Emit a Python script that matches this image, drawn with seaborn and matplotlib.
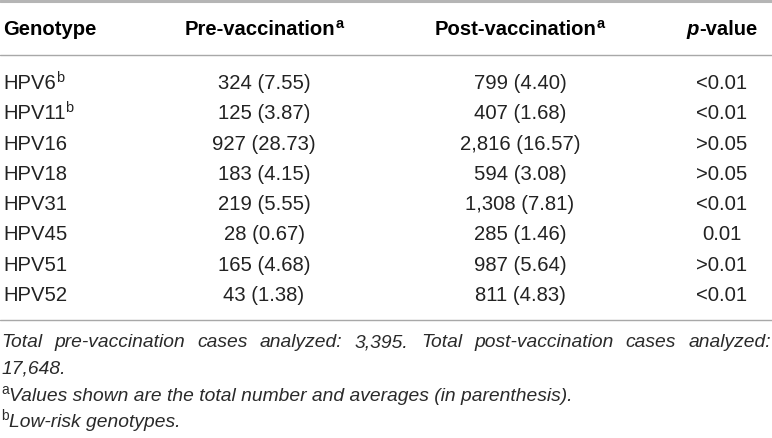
# Table of HPV genotype counts before and after vaccination

import matplotlib
matplotlib.use("Agg")
import matplotlib.pyplot as plt
import seaborn as sns

# Table data
genotypes = ["HPV6", "HPV11", "HPV16", "HPV18", "HPV31", "HPV45", "HPV51", "HPV52"]
low_risk = [True, True, False, False, False, False, False, False]
pre_counts = [324, 125, 927, 183, 219, 28, 165, 43]
pre_avgs = [7.55, 3.87, 28.73, 4.15, 5.55, 0.67, 4.68, 1.38]
post_counts = [799, 407, 2816, 594, 1308, 285, 987, 811]
post_avgs = [4.40, 1.68, 16.57, 3.08, 7.81, 1.46, 5.64, 4.83]
p_values = ["<0.01", "<0.01", ">0.05", ">0.05", "<0.01", "0.01", ">0.01", "<0.01"]

total_pre = 3395
total_post = 17648

sns.set_theme(style="white")
plt.rcParams['font.family'] = ['Liberation Sans', 'DejaVu Sans']

W, H = 772, 438
fig = plt.figure(figsize=(W / 100, H / 100), dpi=100)
ax = fig.add_axes([0, 0, 1, 1])
ax.set_xlim(0, W)
ax.set_ylim(H, 0)
ax.axis("off")
fig.canvas.draw()
renderer = fig.canvas.get_renderer()

FS = 14.6      # body font size (pt)
FN = 13.9      # footnote font size (pt)
SUP = 0.72     # superscript scale
TXT = "#222222"


def width_of(s, **kw):
    t = ax.text(0, 0, s, **kw)
    w = t.get_window_extent(renderer).width
    t.remove()
    return w


def rich(x, y, runs, ha="left"):
    # runs: list of (text, kwargs, raise_px)
    widths = [width_of(s, **kw) for s, kw, _ in runs]
    total = sum(widths)
    if ha == "center":
        x = x - total / 2
    elif ha == "right":
        x = x - total
    for (s, kw, dy), w in zip(runs, widths):
        ax.text(x, y - dy, s, va="baseline", ha="left", **kw)
        x += w


def justify(y, line, x0, x1, **kw):
    words = line.split(" ")
    widths = [width_of(w_, **kw) for w_ in words]
    gap = (x1 - x0 - sum(widths)) / (len(words) - 1)
    x = x0
    for w_, w in zip(words, widths):
        ax.text(x, y, w_, va="baseline", ha="left", **kw)
        x += w + gap


body = dict(fontsize=FS, color=TXT)
bold = dict(fontsize=FS, color="black", fontweight="bold")
bold_sup = dict(fontsize=FS * SUP, color="black", fontweight="bold")
body_sup = dict(fontsize=FS * SUP, color=TXT)
note = dict(fontsize=FN, color="#2a2a2a", style="italic")
note_sup = dict(fontsize=FN * SUP, color="#2a2a2a")

col_geno = 3
col_pre = 264
col_post = 520
col_p = 722

# Rules
ax.axhline(1, color="#b5b5b5", lw=2.2)
ax.axhline(55, color="#a8a8a8", lw=1.0)
ax.axhline(320, color="#a8a8a8", lw=1.0)

# Header
head_y = 35
rich(col_geno, head_y, [("Genotype", bold, 0)])
rich(col_pre, head_y, [("Pre-vaccination", bold, 0), ("a", bold_sup, 7)], ha="center")
rich(col_post, head_y, [("Post-vaccination", bold, 0), ("a", bold_sup, 7)], ha="center")
rich(col_p, head_y, [("p", dict(bold, style="italic"), 0), ("-value", bold, 0)], ha="center")

# Rows
row_y0 = 89
row_step = 30.3
for i, g in enumerate(genotypes):
    y = row_y0 + i * row_step
    runs = [(g, body, 0)]
    if low_risk[i]:
        runs.append(("b", body_sup, 7))
    rich(col_geno, y, runs)
    rich(col_pre, y, [(f"{pre_counts[i]:,} ({pre_avgs[i]:.2f})", body, 0)], ha="center")
    rich(col_post, y, [(f"{post_counts[i]:,} ({post_avgs[i]:.2f})", body, 0)], ha="center")
    rich(col_p, y, [(p_values[i], body, 0)], ha="center")

# Footnotes
justify(347, f"Total pre-vaccination cases analyzed: {total_pre:,}. "
             f"Total post-vaccination cases analyzed:", 1, 771, **note)
rich(1, 373, [(f"{total_post:,}.", note, 0)])
rich(1, 401, [("a", note_sup, 7),
              ("Values shown are the total number and averages (in parenthesis).", note, 0)])
rich(1, 427, [("b", note_sup, 7), ("Low-risk genotypes.", note, 0)])

fig.savefig("out.png", dpi=100, facecolor="white")
plt.close(fig)
